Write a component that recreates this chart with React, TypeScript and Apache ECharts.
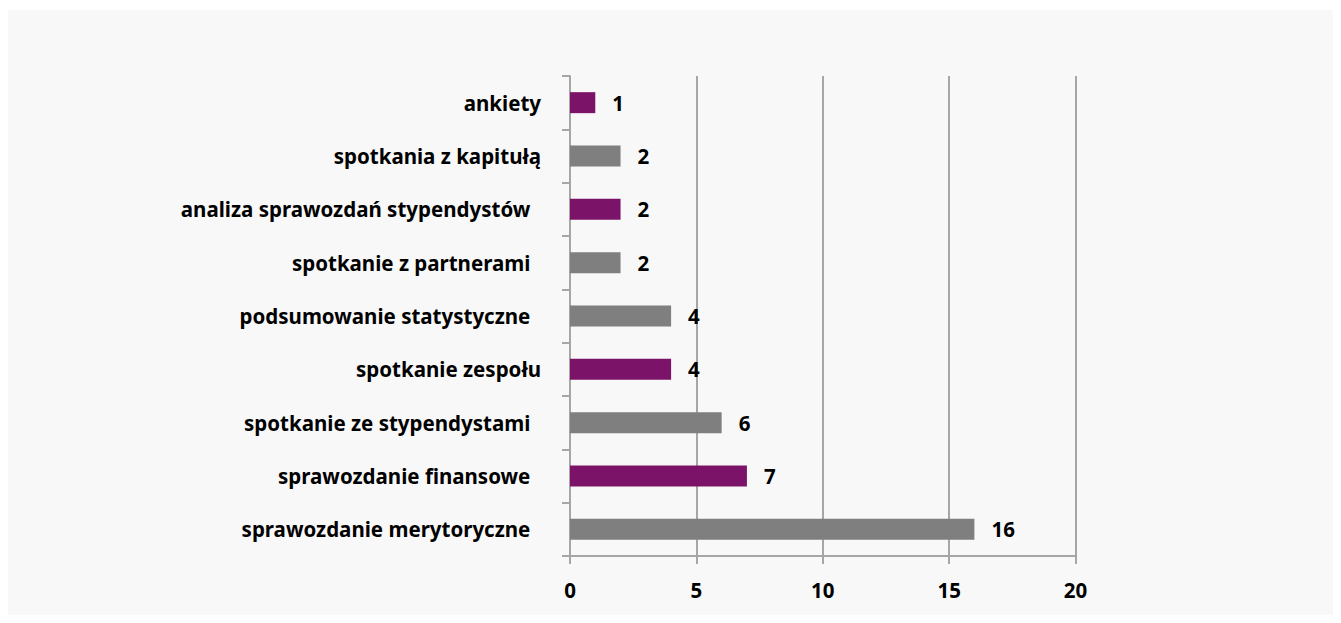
import React, { useEffect, useRef } from "react";
import * as echarts from "echarts";

// bottom to top
const categories = [
  "sprawozdanie merytoryczne ",
  "sprawozdanie finansowe ",
  "spotkanie ze stypendystami ",
  "spotkanie zespołu",
  "podsumowanie statystyczne ",
  "spotkanie z partnerami ",
  "analiza sprawozdań stypendystów ",
  "spotkania z kapitułą",
  "ankiety",
];
const values = [16, 7, 6, 4, 4, 2, 2, 2, 1];
const barColors = [
  "#7f7f7f",
  "#7b1469",
  "#7f7f7f",
  "#7b1469",
  "#7f7f7f",
  "#7f7f7f",
  "#7b1469",
  "#7f7f7f",
  "#7b1469",
];
const xTicks = { min: 0, max: 20, interval: 5 };

const FONT = "Noto Sans";
const FS = 20.5;

export default function App() {
  const ref = useRef<HTMLDivElement>(null);
  useEffect(() => {
    if (!ref.current) return;
    const chart = echarts.init(ref.current, null, { renderer: "svg" });
    chart.setOption({
      animation: false,
      backgroundColor: "#f8f8f8",
      grid: { left: 562, right: 257.5, top: 66, bottom: 59, containLabel: false },
      xAxis: {
        type: "value",
        min: xTicks.min,
        max: xTicks.max,
        interval: xTicks.interval,
        axisLine: { show: true, lineStyle: { color: "#a6a6a6", width: 2 } },
        axisTick: { show: true, length: 8, lineStyle: { color: "#a6a6a6", width: 2 } },
        splitLine: { show: true, lineStyle: { color: "#a6a6a6", width: 2 } },
        axisLabel: {
          margin: 23,
          color: "#000",
          fontFamily: FONT,
          fontWeight: "bold",
          fontSize: FS,
        },
      },
      yAxis: {
        type: "category",
        data: categories,
        axisLine: { show: true, lineStyle: { color: "#a6a6a6", width: 2 } },
        axisTick: { show: true, length: 8, lineStyle: { color: "#a6a6a6", width: 2 } },
        axisLabel: {
          margin: 29,
          color: "#000",
          fontFamily: FONT,
          fontWeight: "bold",
          fontSize: FS,
          formatter: (v: string) => v.replace(/ $/, "\u00a0\u00a0"),
        },
      },
      series: [
        {
          type: "bar",
          barWidth: 21,
          data: values.map((v, i) => ({ value: v, itemStyle: { color: barColors[i] } })),
          label: {
            show: true,
            position: "right",
            distance: 17,
            color: "#000",
            fontFamily: FONT,
            fontWeight: "bold",
            fontSize: FS,
          },
        },
      ],
    });
    return () => chart.dispose();
  }, []);
  return (
    <div style={{ paddingTop: 2 }}>
      <div ref={ref} style={{ width: 1325, height: 605 }} />
    </div>
  );
}
